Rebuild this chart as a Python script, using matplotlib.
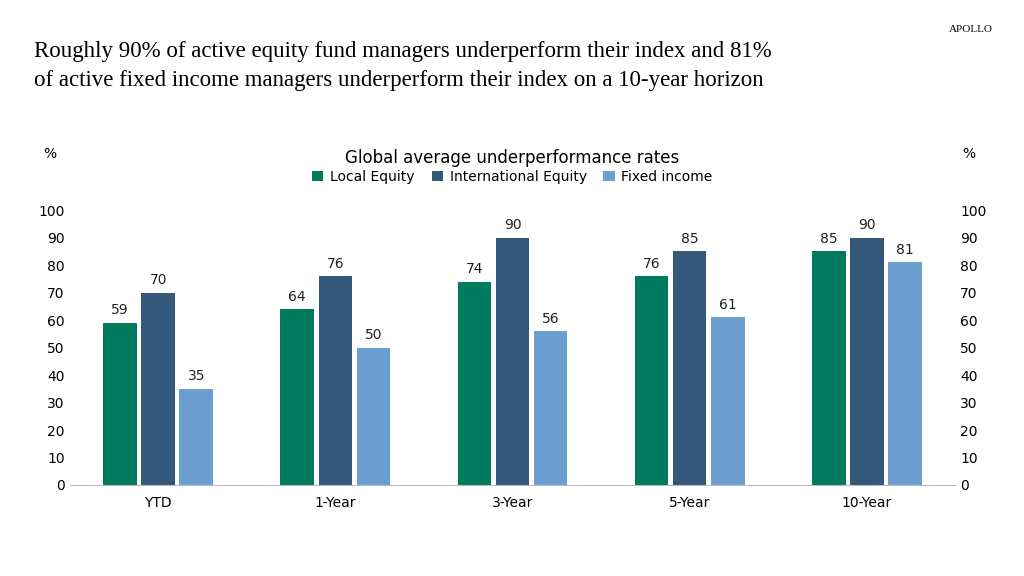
import matplotlib
matplotlib.use("Agg")
import matplotlib.pyplot as plt
import numpy as np

categories = ["YTD", "1-Year", "3-Year", "5-Year", "10-Year"]
local_eq = [59, 64, 74, 76, 85]
intl_eq = [70, 76, 90, 85, 90]
fixed_inc = [35, 50, 56, 61, 81]
series = [("Local Equity", local_eq, "#007A5E"),
          ("International Equity", intl_eq, "#34587A"),
          ("Fixed income", fixed_inc, "#6B9FD0")]

fig = plt.figure(figsize=(10.24, 5.76), dpi=100)
ax = fig.add_axes([0.068, 0.158, 0.865, 0.477])
x = np.arange(len(categories))
w = 0.19
off = 0.215
for i, (name, vals, c) in enumerate(series):
    xs = x + (i - 1) * off
    ax.bar(xs, vals, w, color=c, label=name)
    for xi, v in zip(xs, vals):
        ax.text(xi, v + 2, str(v), ha="center", va="bottom", fontsize=10, color="#222")

ax.set_ylim(0, 100)
ax.set_xlim(-0.5, 4.5)
ax.set_yticks(range(0, 101, 10))
ax.set_xticks(x)
ax.set_xticklabels(categories, fontsize=10)
ax.tick_params(axis="both", length=0, labelsize=10)
ax.tick_params(axis="x", pad=8)
for s in ["top", "right", "left"]:
    ax.spines[s].set_visible(False)
ax.spines["bottom"].set_color("#bbbbbb")
ax2 = ax.twinx()
ax2.set_ylim(0, 100)
ax2.set_yticks(range(0, 101, 10))
ax2.tick_params(length=0, labelsize=10)
for s in ax2.spines.values():
    s.set_visible(False)

fig.text(0.042, 0.725, "%", fontsize=10)
fig.text(0.940, 0.725, "%", fontsize=10)
fig.text(0.5, 0.71, "Global average underperformance rates", ha="center", va="bottom", fontsize=12)
ax.legend(loc="lower center", bbox_to_anchor=(0.5, 1.05), ncol=3, frameon=False,
          fontsize=10, handlelength=0.8, handleheight=0.8, columnspacing=1.2, handletextpad=0.5)

fig.text(0.033, 0.885, "Roughly 90% of active equity fund managers underperform their index and 81%\n"
         "of active fixed income managers underperform their index on a 10-year horizon",
         fontsize=16.5, family="Liberation Serif", va="center", linespacing=1.5)
fig.text(0.97, 0.948, "APOLLO", fontsize=8, family="Liberation Serif", ha="right", va="center")
fig.savefig("out.png", dpi=100)
